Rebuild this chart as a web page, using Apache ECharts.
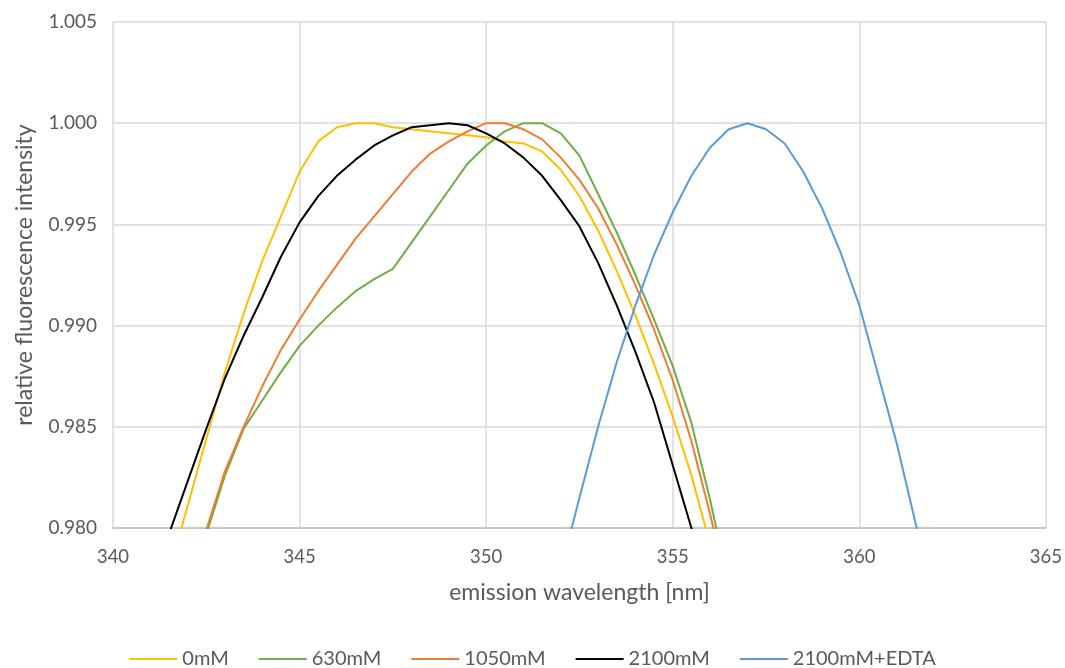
<!DOCTYPE html>
<html>
<head>
<meta charset="utf-8">
<script src="https://cdn.jsdelivr.net/npm/echarts@6/dist/echarts.min.js"></script>
<style>
html,body{margin:0;padding:0;background:#fff;}
#chart{width:1065px;height:668px;}
</style>
</head>
<body>
<div id="chart"></div>
<script>
// wavelengths in nm (0.5 nm sampling)
var wavelengths = [341.0,341.5,342.0,342.5,343.0,343.5,344.0,344.5,345.0,345.5,346.0,346.5,347.0,347.5,348.0,348.5,349.0,349.5,350.0,350.5,351.0,351.5,352.0,352.5,353.0,353.5,354.0,354.5,355.0,355.5,356.0,356.5,357.0,357.5,358.0,358.5,359.0,359.5,360.0,360.5,361.0,361.5,362.0];

var seriesNames = ['0mM','630mM','1050mM','2100mM','2100mM+EDTA'];

var values_0mM = [null,0.9778,0.9811,0.9844,0.9877,0.9906,0.9932,0.9954,0.9976,0.9991,0.9998,1.0000,1.0000,0.9998,0.9997,0.9996,0.9995,0.9994,0.9993,0.9991,0.9990,0.9986,0.9977,0.9964,0.9947,0.9927,0.9905,0.9881,0.9855,0.9826,0.9792,null,null,null,null,null,null,null,null,null,null,null,null];

var values_630mM = [null,null,0.9765,0.9797,0.9826,0.9849,0.9863,0.9877,0.9890,0.9900,0.9909,0.9917,0.9923,0.9928,0.9941,0.9954,0.9967,0.9980,0.9989,0.9996,1.0000,1.0000,0.9995,0.9984,0.9965,0.9946,0.9925,0.9903,0.9880,0.9852,0.9814,0.9772,null,null,null,null,null,null,null,null,null,null,null];

var values_1050mM = [null,null,0.9768,0.9799,0.9828,0.9850,0.9870,0.9888,0.9903,0.9917,0.9930,0.9943,0.9954,0.9965,0.9976,0.9985,0.9991,0.9996,1.0000,1.0000,0.9997,0.9992,0.9983,0.9972,0.9958,0.9940,0.9920,0.9898,0.9873,0.9843,0.9807,0.9768,null,null,null,null,null,null,null,null,null,null,null];

var values_2100mM = [0.9770,0.9797,0.9823,0.9849,0.9874,0.9895,0.9914,0.9934,0.9951,0.9964,0.9974,0.9982,0.9989,0.9994,0.9998,0.9999,1.0000,0.9999,0.9995,0.9990,0.9983,0.9974,0.9962,0.9949,0.9931,0.9910,0.9887,0.9862,0.9831,0.9800,0.9765,null,null,null,null,null,null,null,null,null,null,null,null];

var values_2100mM_EDTA = [null,null,null,null,null,null,null,null,null,null,null,null,null,null,null,null,null,null,null,null,null,null,0.9779,0.9815,0.9850,0.9882,0.9910,0.9935,0.9956,0.9974,0.9988,0.9997,1.0000,0.9997,0.9990,0.9976,0.9958,0.9936,0.9910,0.9876,0.9842,0.9803,0.9762];

var seriesValues = [values_0mM, values_630mM, values_1050mM, values_2100mM, values_2100mM_EDTA];
var seriesColors = ['#FFC000','#70AD47','#ED7D31','#000000','#5B9BD5'];

function pairs(vals){
  var out = [];
  for (var i = 0; i < wavelengths.length; i++) {
    if (vals[i] !== null) out.push([wavelengths[i], vals[i]]);
  }
  return out;
}

var FONT = 'Lato';
var TXT = '#595959';

var chart = echarts.init(document.getElementById('chart'), null, {renderer:'canvas'});
chart.setOption({
  animation: false,
  backgroundColor: '#ffffff',
  textStyle: {fontFamily: FONT},
  grid: {left: 113, right: 18, top: 22, bottom: 140, containLabel: false},
  legend: {
    data: seriesNames,
    top: 644,
    left: 'center',
    icon: 'rect',
    itemWidth: 48,
    itemHeight: 2,
    itemGap: 30,
    textStyle: {color: TXT, fontSize: 20, fontFamily: FONT}
  },
  xAxis: {
    type: 'value',
    min: 340, max: 365, interval: 5,
    name: 'emission wavelength [nm]',
    nameLocation: 'middle',
    nameGap: 53,
    nameTextStyle: {color: TXT, fontSize: 23, fontFamily: FONT},
    axisLine: {show: true, lineStyle: {color: '#bfbfbf', width: 1.5}},
    axisTick: {show: false},
    axisLabel: {color: TXT, fontSize: 18.5, margin: 20, fontFamily: FONT},
    splitLine: {show: true, lineStyle: {color: '#d9d9d9', width: 1.5}}
  },
  yAxis: {
    type: 'value',
    min: 0.980, max: 1.005, interval: 0.005,
    name: 'relative fluorescence intensity',
    nameLocation: 'middle',
    nameGap: 77,
    nameTextStyle: {color: TXT, fontSize: 23, fontFamily: FONT},
    axisLine: {show: false},
    axisTick: {show: false},
    axisLabel: {color: TXT, fontSize: 19, margin: 16, fontFamily: FONT,
      formatter: function(v){ return v.toFixed(3); }},
    splitLine: {show: true, lineStyle: {color: '#d9d9d9', width: 1.5}}
  },
  series: seriesNames.map(function(n, i){
    return {
      name: n,
      type: 'line',
      data: pairs(seriesValues[i]),
      showSymbol: false,
      symbol: 'none',
      smooth: false,
      clip: true,
      color: seriesColors[i],
      lineStyle: {color: seriesColors[i], width: 2}
    };
  })
});
</script>
</body>
</html>
